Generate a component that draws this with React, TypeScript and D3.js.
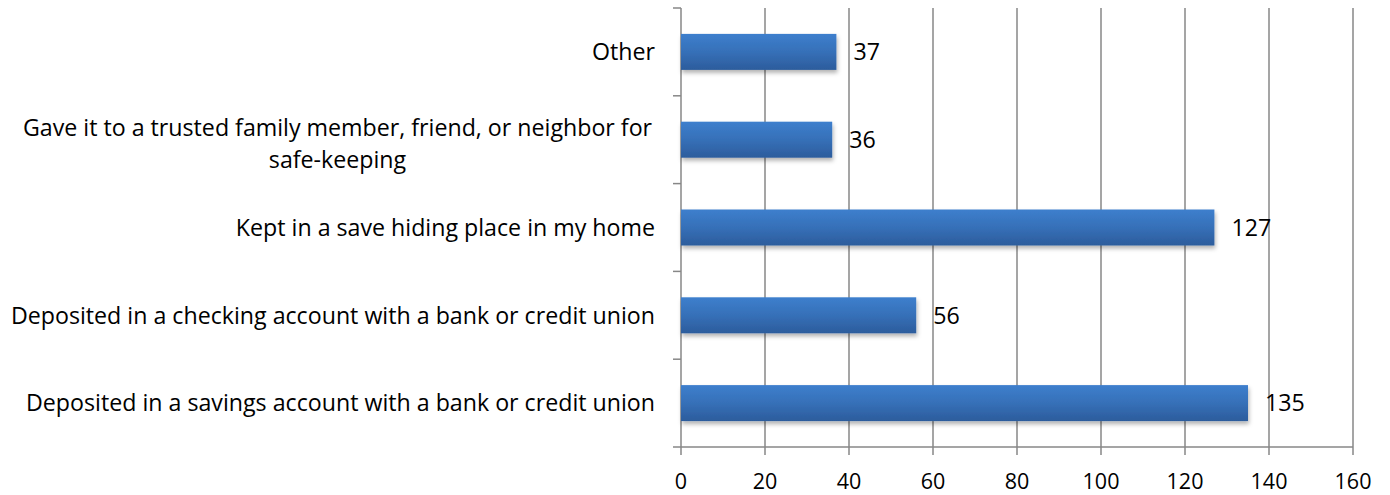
import React from "react";
import * as d3 from "d3";

const categories = [
  "Deposited in a savings account with a bank or credit union",
  "Deposited in a checking account with a bank or credit union",
  "Kept in a save hiding place in my home",
  "Gave it to a trusted family member, friend, or neighbor for\nsafe-keeping",
  "Other",
];
const values = [135, 56, 127, 36, 37];
const xTicks = [0, 20, 40, 60, 80, 100, 120, 140, 160];

const W = 1390;
const H = 495;
const left = 681;
const right = 1353;
const top = 8;
const bottom = 447;
const FONT = "'Open Sans', sans-serif";
const FS = 23.2;
const TFS = 21.5;

export default function App() {
  const x = d3.scaleLinear().domain([0, 160]).range([left, right]);
  const y = d3
    .scaleBand<string>()
    .domain([...categories].reverse())
    .range([top, bottom])
    .paddingInner(0.59)
    .paddingOuter(0.295);
  const bw = y.bandwidth();
  const boundaries = d3.range(categories.length + 1).map((i) => top + (bottom - top) * (i / categories.length));

  return (
    <div style={{ position: "absolute", left: 0, top: 0 }}>
      <svg width={W} height={H} style={{ display: "block", background: "#fff" }}>
        <defs>
          <linearGradient id="barGrad" x1="0" y1="0" x2="0" y2="1">
            <stop offset="0" stopColor="#3d7fcd" />
            <stop offset="0.5" stopColor="#3670b8" />
            <stop offset="1" stopColor="#2c5c9c" />
          </linearGradient>
          <filter id="shadow" x="-5%" y="-30%" width="110%" height="180%">
            <feDropShadow dx="1" dy="3" stdDeviation="2.2" floodColor="#000" floodOpacity="0.3" />
          </filter>
        </defs>
        {xTicks.map((t) => (
          <line
            key={"g" + t}
            x1={x(t)}
            x2={x(t)}
            y1={top}
            y2={bottom + 8}
            stroke="#878787"
            strokeWidth={1.5}
          />
        ))}
        <line x1={left} x2={right} y1={bottom} y2={bottom} stroke="#878787" strokeWidth={1.5} />
        {boundaries.map((b, i) => (
          <line key={"yt" + i} x1={left - 8} x2={left} y1={b} y2={b} stroke="#878787" strokeWidth={1.5} />
        ))}
        {categories.map((c, i) => (
          <rect
            key={"b" + i}
            x={x(0)}
            y={y(c)!}
            width={x(values[i]) - x(0)}
            height={bw}
            fill="url(#barGrad)"
            filter="url(#shadow)"
          />
        ))}
        {categories.map((c, i) => (
          <text
            key={"v" + i}
            x={x(values[i]) + 17}
            y={y(c)! + bw / 2}
            dy="0.36em"
            fontFamily={FONT}
            fontSize={FS}
            fill="#000"
          >
            {values[i]}
          </text>
        ))}
        {categories.map((c, i) => {
          const lines = c.split("\n");
          const lh = 32;
          const multi = lines.length > 1;
          const cy = y(c)! + bw / 2 + (multi ? 4 : 0);
          const widest = multi ? 635 : 0;
          return (
            <text
              key={"c" + i}
              fontFamily={FONT}
              fontSize={FS}
              fill="#000"
              textAnchor={multi ? "middle" : "end"}
            >
              {lines.map((l, j) => (
                <tspan
                  key={j}
                  x={multi ? 655 - widest / 2 : 655}
                  y={cy + (j - (lines.length - 1) / 2) * lh}
                  dy="0.36em"
                >
                  {l}
                </tspan>
              ))}
            </text>
          );
        })}
        {xTicks.map((t) => (
          <text
            key={"xl" + t}
            x={x(t)}
            y={481}
            dy="0.36em"
            textAnchor="middle"
            fontFamily={FONT}
            fontSize={TFS}
            fill="#000"
          >
            {t}
          </text>
        ))}
      </svg>
    </div>
  );
}
